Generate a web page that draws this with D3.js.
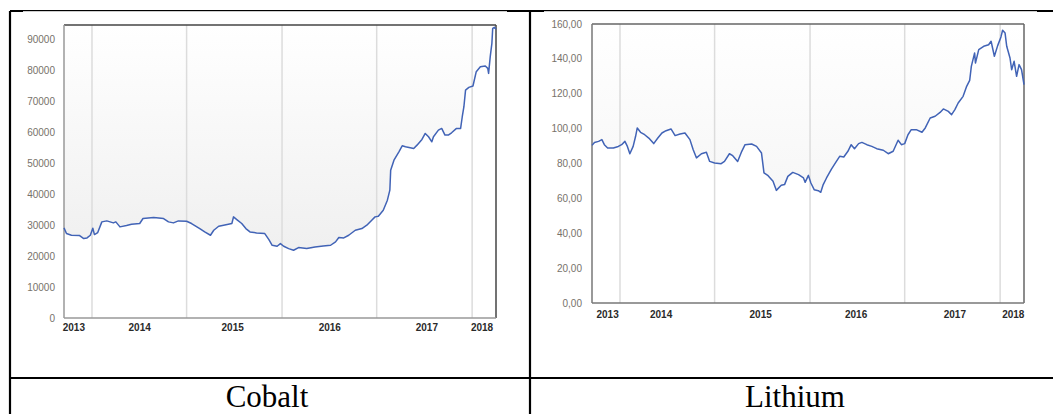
<!DOCTYPE html>
<html>
<head>
<meta charset="utf-8">
<script src="https://cdn.jsdelivr.net/npm/d3@7"></script>
<style>
  html, body { margin: 0; padding: 0; background: #fff; }
  svg { display: block; }
</style>
</head>
<body>
<svg id="fig" width="1053" height="414"></svg>
<script>
// Price data (x = fractional year)
const cobaltYears = [2013.00, 2013.03, 2013.09, 2013.19, 2013.24, 2013.28, 2013.32, 2013.35, 2013.37, 2013.41,
  2013.46, 2013.52, 2013.60, 2013.63, 2013.68, 2013.76, 2013.82, 2013.92, 2013.96, 2014.09,
  2014.21, 2014.27, 2014.33, 2014.39, 2014.49, 2014.55, 2014.65, 2014.71, 2014.78, 2014.82,
  2014.88, 2014.94, 2015.04, 2015.06, 2015.10, 2015.16, 2015.21, 2015.26, 2015.34, 2015.44,
  2015.49, 2015.53, 2015.59, 2015.63, 2015.67, 2015.73, 2015.79, 2015.85, 2015.95, 2016.05,
  2016.15, 2016.24, 2016.30, 2016.34, 2016.40, 2016.46, 2016.54, 2016.62, 2016.68, 2016.74,
  2016.78, 2016.82, 2016.88, 2016.93, 2016.96, 2016.97, 2017.01, 2017.07, 2017.11, 2017.15,
  2017.25, 2017.29, 2017.35, 2017.39, 2017.43, 2017.47, 2017.49, 2017.55, 2017.59, 2017.63,
  2017.67, 2017.71, 2017.77, 2017.82, 2017.84, 2017.86, 2017.88, 2017.92, 2017.97, 2018.01,
  2018.06, 2018.12, 2018.15, 2018.16, 2018.18, 2018.20, 2018.21, 2018.23, 2018.25];
const cobaltValues = [29170, 27330, 26790, 26690, 25710, 25930, 26790, 29060, 27010, 27660,
  31120, 31440, 30790, 31120, 29500, 29930, 30360, 30580, 32200, 32520,
  32200, 31120, 30790, 31440, 31330, 30580, 28950, 27870, 26790, 28410,
  29710, 30040, 30580, 32740, 31870, 30580, 28950, 27870, 27550, 27330,
  25390, 23550, 23230, 24090, 23230, 22470, 21930, 22800, 22470, 23010,
  23340, 23550, 24630, 26040, 25930, 26790, 28410, 28950, 30040, 31660,
  32740, 32950, 34900, 38140, 41380, 47860, 51100, 53800, 55750, 55420,
  54880, 55960, 57800, 59750, 58670, 57040, 58670, 60830, 61370, 59210,
  59210, 59960, 61370, 61370, 65150, 68390, 73790, 74650, 75090, 79730,
  81350, 81570, 80810, 79190, 84590, 88910, 93780, 94100, 93450];

const lithiumYears = [2013.00, 2013.03, 2013.08, 2013.12, 2013.15, 2013.19, 2013.26, 2013.32, 2013.36, 2013.40,
  2013.43, 2013.46, 2013.50, 2013.53, 2013.55, 2013.59, 2013.64, 2013.69, 2013.75, 2013.80,
  2013.85, 2013.90, 2013.96, 2014.01, 2014.07, 2014.13, 2014.19, 2014.23, 2014.27, 2014.33,
  2014.39, 2014.43, 2014.49, 2014.57, 2014.61, 2014.67, 2014.71, 2014.77, 2014.82, 2014.86,
  2014.94, 2015.00, 2015.06, 2015.09, 2015.14, 2015.20, 2015.24, 2015.30, 2015.34, 2015.38,
  2015.44, 2015.51, 2015.57, 2015.59, 2015.63, 2015.66, 2015.70, 2015.75, 2015.78, 2015.81,
  2015.85, 2015.91, 2015.97, 2016.01, 2016.06, 2016.11, 2016.15, 2016.19, 2016.24, 2016.28,
  2016.34, 2016.40, 2016.46, 2016.54, 2016.60, 2016.66, 2016.72, 2016.76, 2016.80, 2016.84,
  2016.88, 2016.94, 2017.01, 2017.05, 2017.11, 2017.17, 2017.23, 2017.27, 2017.33, 2017.37,
  2017.41, 2017.45, 2017.51, 2017.55, 2017.59, 2017.61, 2017.65, 2017.66, 2017.70, 2017.76,
  2017.82, 2017.85, 2017.89, 2017.93, 2017.97, 2017.99, 2018.02, 2018.04, 2018.08, 2018.10,
  2018.13, 2018.16, 2018.19, 2018.22, 2018.25];
const lithiumValues = [90.4, 92.1, 92.7, 93.7, 90.8, 88.9, 88.9, 89.8, 90.8, 92.7,
  89.8, 85.6, 89.8, 95.6, 100.4, 97.9, 96.5, 94.6, 91.4, 94.6,
  97.5, 98.8, 99.8, 96.0, 96.9, 97.5, 93.7, 87.9, 83.2, 85.6,
  86.4, 81.2, 80.3, 79.9, 81.2, 85.6, 84.5, 81.2, 87.0, 90.8,
  91.2, 89.8, 86.0, 74.6, 73.0, 69.8, 64.6, 67.5, 67.9, 72.6,
  74.9, 73.6, 71.7, 69.2, 73.2, 68.8, 65.0, 64.4, 63.5, 67.9,
  71.7, 76.8, 81.2, 84.1, 83.7, 87.0, 90.8, 88.5, 91.4, 92.1,
  90.8, 89.8, 88.5, 87.6, 85.6, 87.0, 93.3, 90.8, 91.4, 96.5,
  99.4, 99.4, 97.9, 100.4, 106.1, 107.1, 109.3, 111.3, 109.9, 108.0,
  110.9, 114.7, 118.5, 123.9, 127.7, 135.7, 143.4, 137.6, 145.3, 147.2,
  148.1, 150.1, 141.5, 147.6, 152.6, 156.4, 154.8, 147.2, 140.5, 133.8,
  138.6, 130.0, 136.7, 133.8, 125.2];

// Axis stuff
const gridYears = [2013.34, 2014.49, 2015.65, 2016.80, 2017.96];
const yearLabels = ["2013", "2014", "2015", "2016", "2017", "2018"];
const cobaltLabelYears = [2013.12, 2013.92, 2015.05, 2016.23, 2017.41, 2018.08];
const lithiumLabelYears = [2013.19, 2013.84, 2015.05, 2016.21, 2017.41, 2018.12];
const cobaltTicks = [0, 10000, 20000, 30000, 40000, 50000, 60000, 70000, 80000, 90000];
const lithiumTicks = [0, 20, 40, 60, 80, 100, 120, 140, 160];
const captions = ["Cobalt", "Lithium"];

const svg = d3.select("#fig");

/// TABLE FRAME ///
const tableLines = [
  [10, 11, 1053, 11],
  [10, 11, 10, 414],
  [530, 11, 530, 414],
  [10, 378, 1053, 378]
];
svg.selectAll(".tbl")
  .data(tableLines)
  .enter()
  .append("line")
  .attr("x1", d => d[0]).attr("y1", d => d[1])
  .attr("x2", d => d[2]).attr("y2", d => d[3])
  .attr("stroke", "#000")
  .attr("stroke-width", 2.2);

// screenshot backgrounds cover half of the top border
svg.append("rect").attr("x", 23).attr("y", 11.2).attr("width", 484).attr("height", 360).attr("fill", "#fff");
svg.append("rect").attr("x", 544).attr("y", 11.2).attr("width", 493).attr("height", 360).attr("fill", "#fff");

// captions
svg.selectAll(".caption")
  .data(captions)
  .enter()
  .append("text")
  .text(d => d)
  .attr("x", (d, i) => i === 0 ? 267 : 795)
  .attr("y", 407)
  .attr("text-anchor", "middle")
  .attr("font-family", "'Liberation Serif', 'Times New Roman', serif")
  .attr("font-size", 31)
  .attr("fill", "#000");

/// ONE PRICE CHART ///
function priceChart({ id, left, top, width, height, years, values, yMax, ticks, tickFmt,
  labelYears, labelX, xLabelY, frameTop = "#555", frameSide = "#999", fadeTo = "#eeeeee" }) {

  const data = years.map((t, i) => ({ t, v: values[i] }));

  const x = d3.scaleLinear().domain([2013, 2018.25]).range([left, left + width]);
  const y = d3.scaleLinear().domain([0, yMax]).range([top + height, top]);

  const g = svg.append("g").attr("class", id);

  // shade above the line (gets darker towards the bottom)
  const grad = svg.append("defs").append("linearGradient")
    .attr("id", id + "-grad")
    .attr("gradientUnits", "userSpaceOnUse")
    .attr("x1", 0).attr("x2", 0)
    .attr("y1", top).attr("y2", top + height);
  grad.append("stop").attr("offset", 0).attr("stop-color", "#ffffff");
  grad.append("stop").attr("offset", 1).attr("stop-color", fadeTo);

  g.append("path")
    .datum(data)
    .attr("d", d3.area().x(d => x(d.t)).y0(top).y1(d => y(d.v)))
    .attr("fill", `url(#${id}-grad)`);

  // vertical grid lines
  g.selectAll(".grid")
    .data(gridYears)
    .enter()
    .append("line")
    .attr("x1", d => x(d)).attr("x2", d => x(d))
    .attr("y1", top).attr("y2", top + height)
    .attr("stroke", "#dcdcdc")
    .attr("stroke-width", 1.5);

  // frame
  g.append("line").attr("x1", left).attr("x2", left + width).attr("y1", top).attr("y2", top)
    .attr("stroke", frameTop).attr("stroke-width", 1.5);
  g.append("line").attr("x1", left + width).attr("x2", left + width).attr("y1", top).attr("y2", top + height)
    .attr("stroke", frameTop).attr("stroke-width", 1.5);
  g.append("line").attr("x1", left).attr("x2", left).attr("y1", top).attr("y2", top + height)
    .attr("stroke", frameSide).attr("stroke-width", 1.5);
  g.append("line").attr("x1", left).attr("x2", left + width).attr("y1", top + height).attr("y2", top + height)
    .attr("stroke", frameSide).attr("stroke-width", 1.5);

  // price line
  g.append("path")
    .datum(data)
    .attr("d", d3.line().x(d => x(d.t)).y(d => y(d.v)))
    .attr("fill", "none")
    .attr("stroke", "#4163b6")
    .attr("stroke-width", 1.5)
    .attr("stroke-linejoin", "round");

  // y labels
  g.selectAll(".ylab")
    .data(ticks)
    .enter()
    .append("text")
    .text(d => tickFmt(d))
    .attr("x", labelX)
    .attr("y", d => y(d))
    .attr("dy", "0.35em")
    .attr("text-anchor", "end")
    .attr("font-family", "Arial, 'Liberation Sans', sans-serif")
    .attr("font-size", 10)
    .attr("fill", "#77726a");

  // year labels
  g.selectAll(".xlab")
    .data(labelYears)
    .enter()
    .append("text")
    .text((d, i) => yearLabels[i])
    .attr("x", d => x(d))
    .attr("y", xLabelY)
    .attr("dy", "0.35em")
    .attr("text-anchor", "middle")
    .attr("font-family", "Arial, 'Liberation Sans', sans-serif")
    .attr("font-size", 10)
    .attr("font-weight", "bold")
    .attr("fill", "#2a2a2a");
}

priceChart({
  id: "cobalt", left: 64, top: 25, width: 432, height: 293,
  years: cobaltYears, values: cobaltValues, yMax: 94850,
  ticks: cobaltTicks, tickFmt: d => String(d),
  labelYears: cobaltLabelYears, labelX: 55, xLabelY: 327,
  frameTop: "#444", frameSide: "#999", fadeTo: "#ebebeb"
});

priceChart({
  id: "lithium", left: 592, top: 24, width: 432, height: 279,
  years: lithiumYears, values: lithiumValues, yMax: 160,
  ticks: lithiumTicks, tickFmt: d => d.toFixed(2).replace(".", ","),
  labelYears: lithiumLabelYears, labelX: 582, xLabelY: 314,
  frameTop: "#666", frameSide: "#777", fadeTo: "#f1f1f1"
});
</script>
</body>
</html>
